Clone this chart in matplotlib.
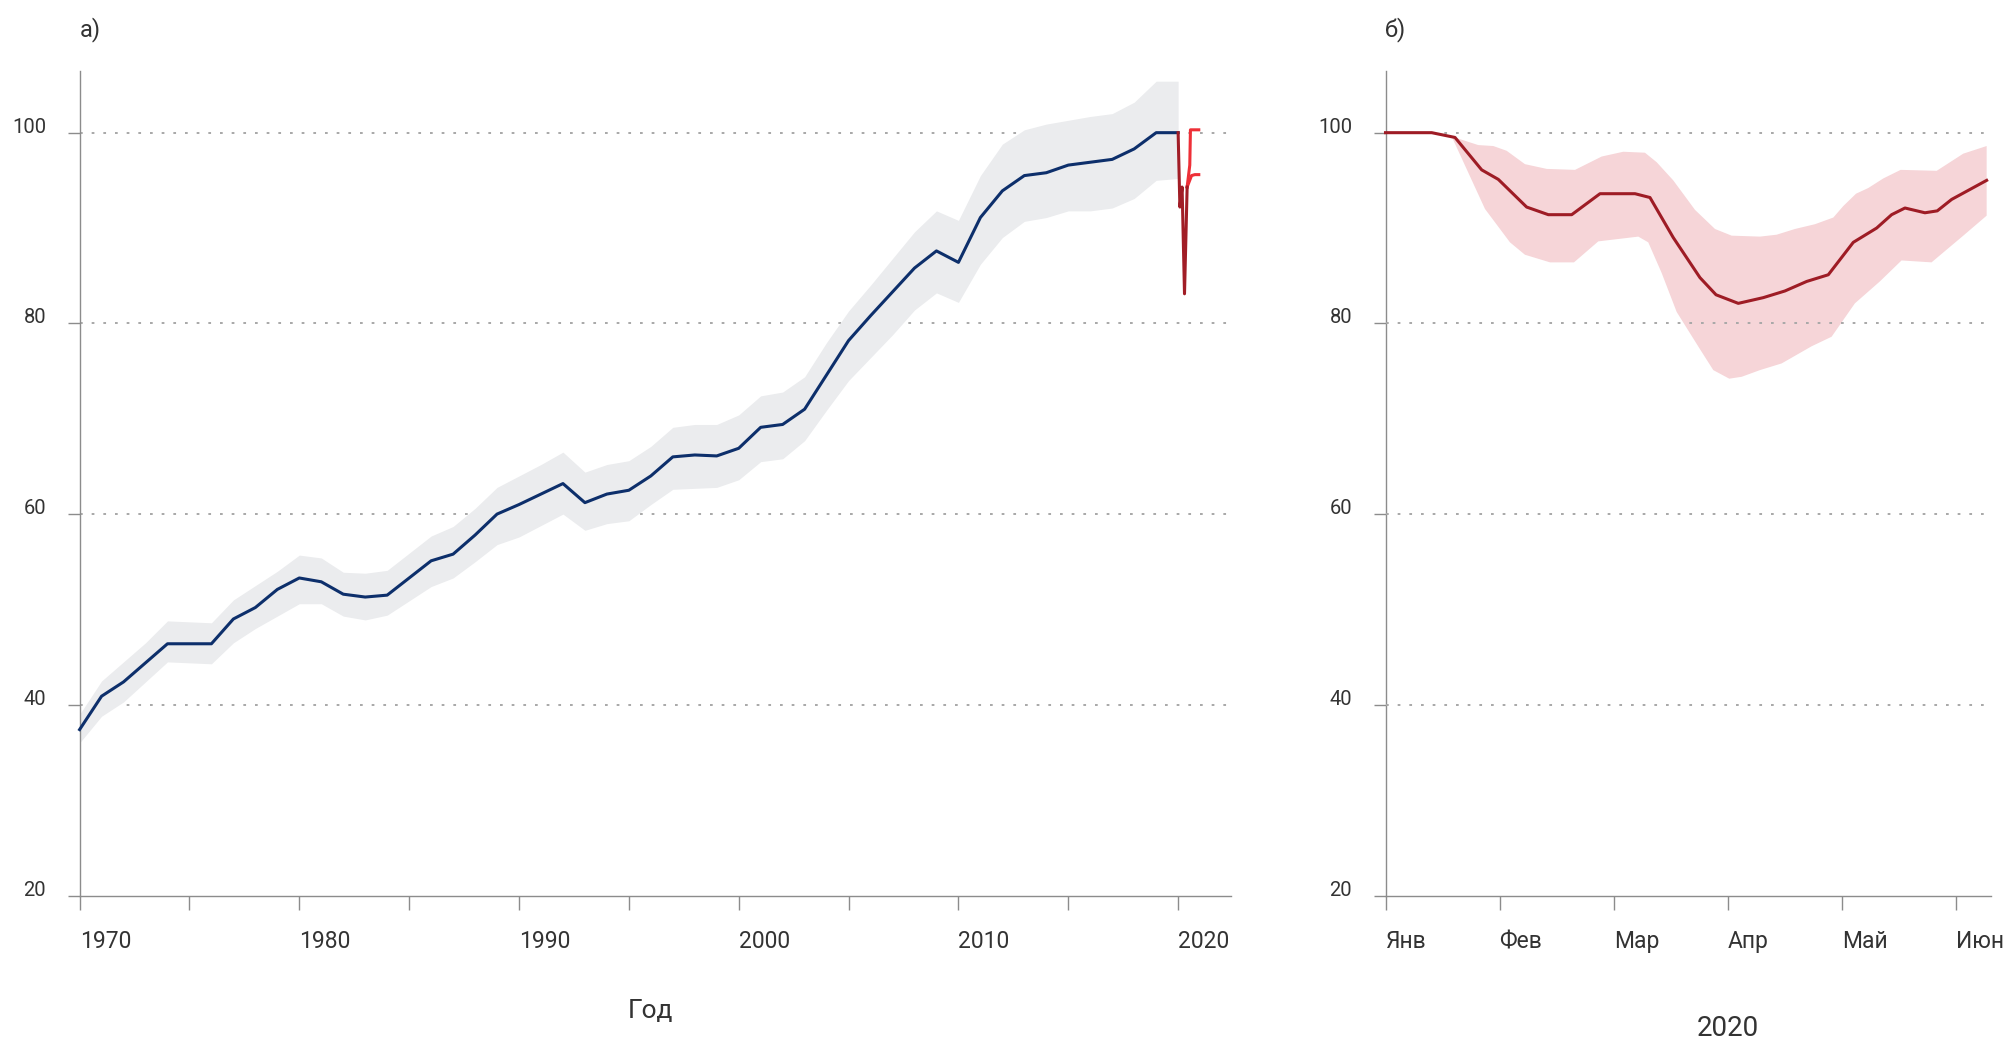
import matplotlib
matplotlib.use('Agg')
import matplotlib.pyplot as plt
import numpy as np

plt.rcParams['font.family'] = ['Roboto', 'DejaVu Sans']

# panel a) - yearly index, 2020 = 100
years = list(range(1970, 2021))
index = [37.4, 40.9, 42.4, 44.4, 46.4, 46.4, 46.4, 49.0, 50.2, 52.1,
         53.3, 52.9, 51.6, 51.3, 51.5, 53.3, 55.1, 55.8, 57.8, 60.0,
         61.0, 62.1, 63.2, 61.2, 62.1, 62.5, 64.0, 66.0, 66.2, 66.1,
         66.9, 69.1, 69.4, 71.0, 74.6, 78.2, 80.8, 83.3, 85.8, 87.6,
         86.4, 91.1, 93.9, 95.5, 95.8, 96.6, 96.9, 97.2, 98.3, 100.0,
         100.0]
upper = [39.0, 42.5, 44.5, 46.5, 48.8, 48.7, 48.6, 51.0, 52.5, 54.0,
         55.7, 55.4, 53.9, 53.8, 54.1, 55.9, 57.7, 58.7, 60.6, 62.8,
         64.0, 65.2, 66.5, 64.4, 65.2, 65.6, 67.1, 69.1, 69.4, 69.4,
         70.4, 72.4, 72.8, 74.4, 78.0, 81.3, 84.0, 86.8, 89.6, 91.8,
         90.8, 95.5, 98.8, 100.3, 100.9, 101.3, 101.7, 102.0, 103.2, 105.4,
         105.4]
lower = [36.0, 38.8, 40.3, 42.4, 44.5, 44.4, 44.3, 46.5, 48.0, 49.3,
         50.6, 50.6, 49.3, 48.9, 49.4, 50.9, 52.4, 53.3, 55.0, 56.8,
         57.6, 58.8, 60.0, 58.3, 59.0, 59.3, 61.0, 62.6, 62.7, 62.8,
         63.6, 65.5, 65.8, 67.7, 70.9, 74.0, 76.4, 78.8, 81.4, 83.2,
         82.2, 86.2, 89.0, 90.7, 91.1, 91.8, 91.8, 92.1, 93.1, 95.0,
         95.2]

# 2020 actual and two scenarios (fraction of year)
covid_t = [2020.0, 2020.08, 2020.18, 2020.29, 2020.41]
covid_v = [100.0, 92.2, 94.3, 83.1, 94.3]
scen1_t = [2020.41, 2020.53, 2020.56, 2020.94]
scen1_v = [94.3, 96.6, 100.3, 100.3]
scen2_t = [2020.41, 2020.61, 2020.76, 2020.94]
scen2_v = [94.3, 95.5, 95.6, 95.6]

# panel б) - 2020, x in months from January
months = ['Янв', 'Фев', 'Мар', 'Апр', 'Май', 'Июн']
week_t = [0, 0.405, 0.609, 0.843, 0.989, 1.237, 1.427, 1.632, 1.88, 2.187,
          2.318, 2.522, 2.756, 2.897, 3.092, 3.311, 3.501, 3.692, 3.881, 4.1,
          4.305, 4.436, 4.553, 4.728, 4.836, 4.962, 5.269]
week_v = [100, 100, 99.5, 96.1, 95.1, 92.2, 91.4, 91.4, 93.6, 93.6,
          93.2, 89.0, 84.8, 83.0, 82.1, 82.7, 83.4, 84.4, 85.1, 88.5,
          90.0, 91.4, 92.1, 91.6, 91.8, 93.0, 95.0]
band_up_t = [0.58, 0.813, 0.945, 1.062, 1.222, 1.413, 1.661, 1.895, 2.084, 2.274,
             2.377, 2.522, 2.713, 2.888, 3.034, 3.282, 3.428, 3.589, 3.764, 3.925,
             4.012, 4.124, 4.232, 4.363, 4.515, 4.831, 5.064, 5.269]
band_up_v = [99.6, 98.7, 98.6, 98.1, 96.7, 96.2, 96.1, 97.5, 98.0, 97.9,
             96.9, 95.0, 91.9, 89.9, 89.2, 89.1, 89.3, 89.9, 90.4, 91.1,
             92.3, 93.6, 94.2, 95.2, 96.1, 96.0, 97.8, 98.6]
band_lo_t = [0.58, 0.872, 1.091, 1.222, 1.442, 1.652, 1.865, 2.216, 2.303, 2.42,
             2.552, 2.756, 2.873, 3.013, 3.122, 3.282, 3.472, 3.735, 3.91, 4.114,
             4.333, 4.523, 4.786, 5.064, 5.269]
band_lo_v = [99.6, 92.0, 88.5, 87.2, 86.4, 86.4, 88.6, 89.1, 88.5, 85.3,
             81.2, 77.3, 75.1, 74.2, 74.4, 75.1, 75.8, 77.6, 78.6, 82.1,
             84.4, 86.6, 86.4, 89.2, 91.3]

yticks = [20, 40, 60, 80, 100]
axis_col = '#8c8c8c'
grid_col = '#a8a8a8'
text_col = '#333333'


def style(ax, grid_z):
    for s in ['top', 'right']:
        ax.spines[s].set_visible(False)
    for s in ['left', 'bottom']:
        ax.spines[s].set_color(axis_col)
        ax.spines[s].set_linewidth(1.0)
    ax.set_ylim(20, 106.5)
    ax.set_yticks(yticks)
    ax.tick_params(axis='y', length=8.6, width=1.0, color=axis_col, pad=15.5,
                   labelsize=14.5, labelcolor=text_col)
    ax.tick_params(axis='x', length=10, width=1.0, color=axis_col, pad=15,
                   labelsize=16.5, labelcolor=text_col)
    for lab in ax.get_yticklabels():
        lab.set_va('baseline')
    for v in yticks[1:]:
        ax.axhline(v, color=grid_col, lw=1.4, ls=(0, (1.4, 4.6)), zorder=grid_z)


fig = plt.figure(figsize=(20.06, 10.38), dpi=100)
ax1 = fig.add_axes([0.03968, 0.13728, 0.57413, 0.79461])
ax2 = fig.add_axes([0.69068, 0.13728, 0.30184, 0.79461])

# a)
style(ax1, 1)
ax1.fill_between(years, lower, upper, color='#ebecee', lw=0, zorder=2)
ax1.plot(years, index, color='#0d2f6b', lw=2.2, zorder=3, clip_on=False)
ax1.plot(scen1_t, scen1_v, color='#ee2f37', lw=2.2, zorder=3)
ax1.plot(scen2_t, scen2_v, color='#ee2f37', lw=2.2, zorder=3)
ax1.plot(covid_t, covid_v, color='#a11d26', lw=2.2, zorder=4)
ax1.set_xlim(1970, 2022.42)
xt = list(range(1970, 2021, 5))
ax1.set_xticks(xt)
ax1.set_xticklabels([str(y) if y % 10 == 0 else '' for y in xt], ha='left')

# б)
style(ax2, 3)
ax2.fill(np.concatenate([band_up_t, band_lo_t[::-1]]),
         np.concatenate([band_up_v, band_lo_v[::-1]]),
         color='#f6d5d8', lw=0, zorder=1)
ax2.plot(week_t, week_v, color='#9e1c25', lw=2.2, zorder=4, clip_on=False)
ax2.set_xlim(0, 5.307)
ax2.set_xticks(range(len(months)))
ax2.set_xticklabels(months, ha='left')

fig.text(80 / 2006, 1 - 36 / 1038, 'а)', fontsize=17, color=text_col, va='baseline', ha='left')
fig.text(1385 / 2006, 1 - 36 / 1038, 'б)', fontsize=17, color=text_col, va='baseline', ha='left')
fig.text(651 / 2006, 1 - 1018 / 1038, 'Год', fontsize=19, color=text_col, va='baseline', ha='center')
fig.text(1728 / 2006, 1 - 1036 / 1038, '2020', fontsize=20, color=text_col, va='baseline', ha='center')

fig.savefig('out.png', dpi=100)
